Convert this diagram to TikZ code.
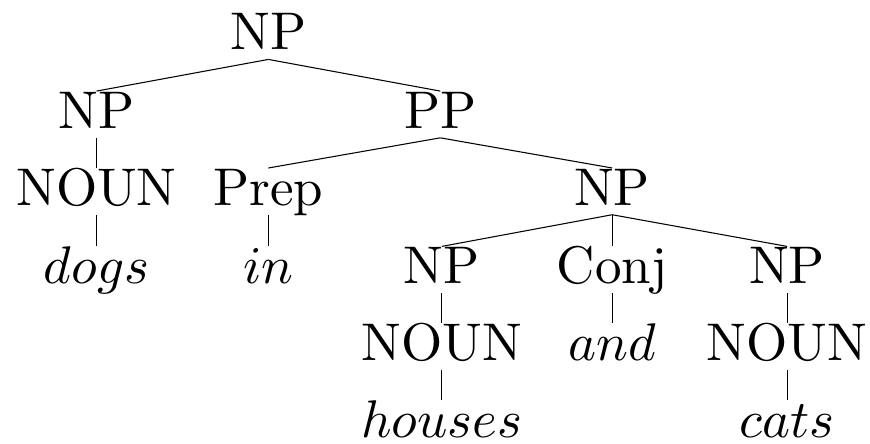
\documentclass[tikz,border=0pt]{standalone}
\usepackage{amsmath}
\begin{document}
\begin{tikzpicture}[very thin, cat/.style={inner sep=0pt, anchor=base, text height=1.6ex, text depth=0.4ex}]
				\useasboundingbox (0,0) rectangle (5.77,-2.94);
				\node[cat] (NP)at(1.78, -0.33) {NP};
				\node[cat] (NP_A)at(0.64, -0.85) {NP};
				\node[cat] (PP)at(2.92, -0.85) {PP};
				\node[cat] (NOUN_A)at(0.64, -1.36) {NOUN};
				\node[cat] (Prep)at(1.78, -1.36) {Prep};
				\node[cat] (NP_B)at(4.06, -1.36) {NP};
				\node[cat] (W_dogs)at(0.64, -1.88) {$dogs$};
				\node[cat] (W_in)at(1.78, -1.88) {$in$};
				\node[cat] (NP_C)at(2.93, -1.88) {NP};
				\node[cat] (Conj)at(4.06, -1.88) {Conj};
				\node[cat] (NP_D)at(5.22, -1.88) {NP};
				\node[cat] (NOUN_C)at(2.93, -2.39) {NOUN};
				\node[cat] (W_and)at(4.06, -2.39) {$and$};
				\node[cat] (NOUN_D)at(5.22, -2.39) {NOUN};
				\node[cat] (W_houses)at(2.93, -2.90) {$houses$};
				\node[cat] (W_cats)at(5.22, -2.90) {$cats$};
				\draw (NP.south) -- (NP_A.north);
				\draw (NP.south) -- (PP.north);
				\draw (NP_A.south) -- (NOUN_A.north);
				\draw (NOUN_A.south) -- (W_dogs.north);
				\draw (PP.south) -- (Prep.north);
				\draw (PP.south) -- (NP_B.north);
				\draw (Prep.south) -- (W_in.north);
				\draw (NP_B.south) -- (NP_C.north);
				\draw (NP_B.south) -- (Conj.north);
				\draw (NP_B.south) -- (NP_D.north);
				\draw (NP_C.south) -- (NOUN_C.north);
				\draw (Conj.south) -- (W_and.north);
				\draw (NP_D.south) -- (NOUN_D.north);
				\draw (NOUN_C.south) -- (W_houses.north);
				\draw (NOUN_D.south) -- (W_cats.north);
			\end{tikzpicture}
\end{document}
